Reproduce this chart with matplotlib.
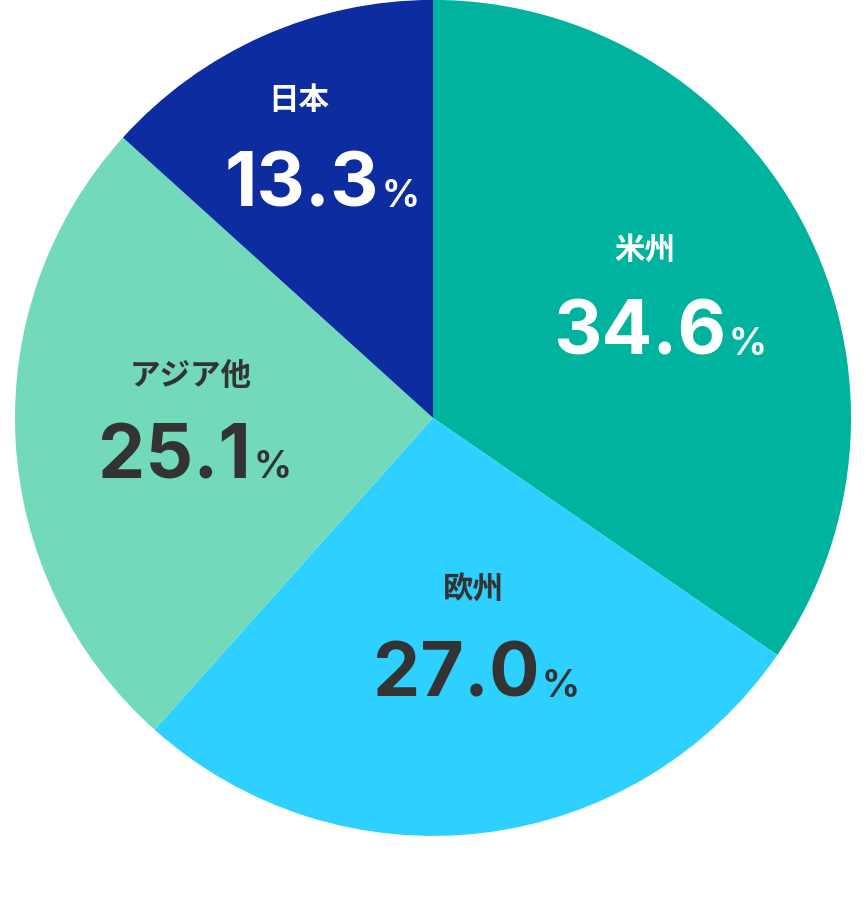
import matplotlib
matplotlib.use("Agg")
import matplotlib.pyplot as plt

categories = ["米州", "欧州", "アジア他", "日本"]
values = [34.6, 27.0, 25.1, 13.3]
colors = ["#00B39F", "#2DD0FF", "#72DABB", "#0D2CA0"]
text_colors = ["white", "#333333", "#333333", "white"]
# label layout (data coords, radius=1)
name_pos = [(0.507, 0.40), (0.096, -0.41), (-0.58, 0.10), (-0.32, 0.76)]
num_anchor = [(0.703, 0.151), (0.254, -0.667), (-0.435, -0.144), (-0.129, 0.505)]

fig = plt.figure(figsize=(8.66, 9), dpi=100)
ax = fig.add_axes([0.5 - 0.4827, 0.5356 - 0.4644, 0.9654, 0.9289])
ax.pie(values, colors=colors, startangle=90, counterclock=False, radius=1,
       wedgeprops=dict(linewidth=0))
ax.set_xlim(-1, 1); ax.set_ylim(-1, 1)
ax.set_aspect("auto")
ax.axis("off")

cjk = ["Noto Sans CJK JP", "DejaVu Sans"]
for cat, v, tc, (nx, ny), (ax_, ay) in zip(categories, values, text_colors, name_pos, num_anchor):
    ax.text(nx, ny, cat, ha="center", va="center", fontsize=22, fontweight="bold",
            color=tc, family=cjk)
    ax.text(ax_, ay, f"{v:.1f}", ha="right", va="baseline", fontsize=54,
            fontweight="bold", color=tc, family=["Inter", "DejaVu Sans"])
    ax.text(ax_ + 0.005, ay, "%", ha="left", va="baseline", fontsize=27,
            fontweight="bold", color=tc, family=["Inter", "DejaVu Sans"])

fig.savefig("out.png", dpi=100)
